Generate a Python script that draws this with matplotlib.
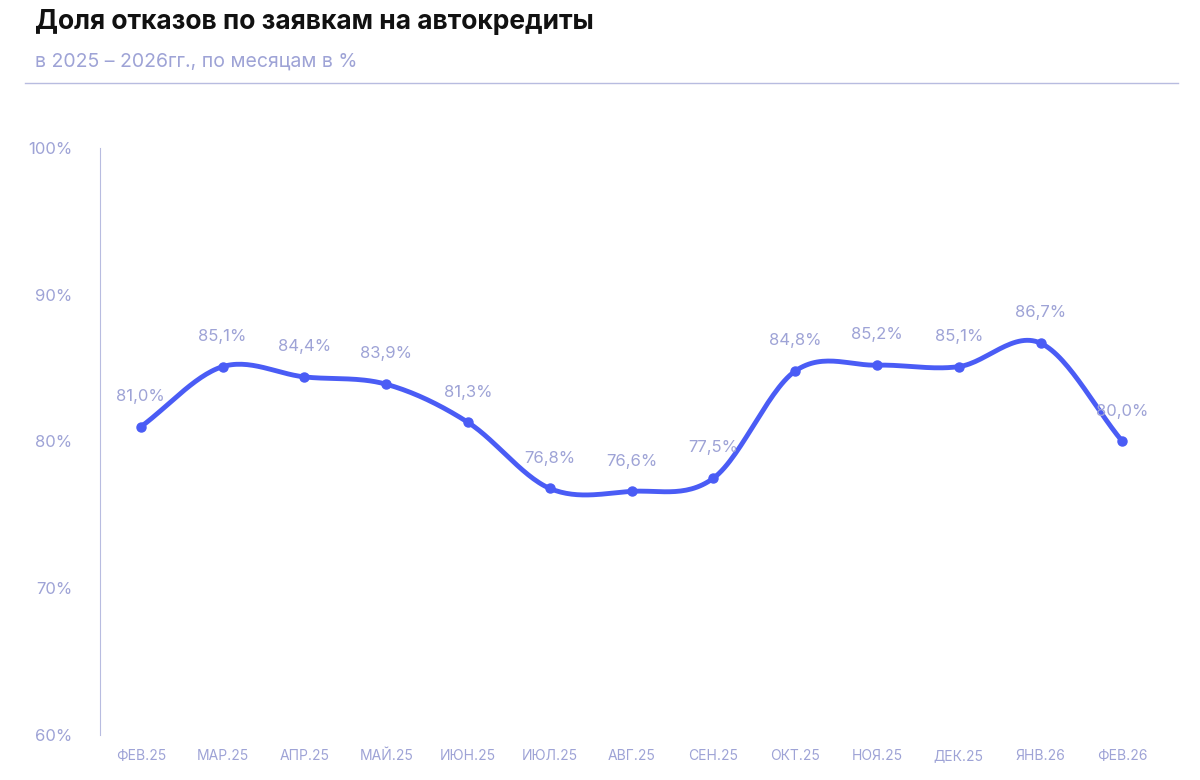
import matplotlib
matplotlib.use("Agg")
import matplotlib.pyplot as plt
import numpy as np

months = ["ФЕВ.25","МАР.25","АПР.25","МАЙ.25","ИЮН.25","ИЮЛ.25","АВГ.25","СЕН.25","ОКТ.25","НОЯ.25","ДЕК.25","ЯНВ.26","ФЕВ.26"]
values = [81.0,85.1,84.4,83.9,81.3,76.8,76.6,77.5,84.8,85.2,85.1,86.7,80.0]
yticks = [60,70,80,90,100]

plt.rcParams['font.family'] = ['Inter', 'DejaVu Sans']
LINE = "#4a5cf5"
LAB = "#9ea3d6"

fig = plt.figure(figsize=(12, 7.8), dpi=100)
fig.text(0.029, 0.972, "Доля отказов по заявкам на автокредиты", fontsize=19, fontweight='bold', color="#111111", va='center')
fig.text(0.029, 0.921, "в 2025 – 2026гг., по месяцам в %", fontsize=14, color=LAB, va='center')
fig.add_artist(plt.Line2D([0.021, 0.982], [0.894, 0.894], color="#b8bce0", lw=1))

ax = fig.add_axes([0.0833, 0.0577, 0.8834, 0.7526])
x = np.arange(len(values))
y = np.array(values)

# Catmull-Rom smoothing for rendering
xs, ys = [], []
P = np.vstack([x, y]).T
P = np.vstack([2*P[0]-P[1], P, 2*P[-1]-P[-2]])
for i in range(1, len(P)-2):
    p0, p1, p2, p3 = P[i-1], P[i], P[i+1], P[i+2]
    for t in np.linspace(0, 1, 30, endpoint=False):
        t2, t3 = t*t, t*t*t
        pt = 0.5*((2*p1) + (-p0+p2)*t + (2*p0-5*p1+4*p2-p3)*t2 + (-p0+3*p1-3*p2+p3)*t3)
        xs.append(pt[0]); ys.append(pt[1])
xs.append(x[-1]); ys.append(y[-1])
ax.plot(xs, ys, color=LINE, lw=3.5, solid_capstyle='round')
ax.plot(x, y, 'o', color=LINE, ms=6.5)
for xi, yi in zip(x, y):
    ax.text(xi, yi + 1.55, f"{yi:.1f}%".replace('.', ','), ha='center', va='bottom', fontsize=12, color=LAB)

ax.set_xlim(-0.5, 12.46)
ax.set_ylim(60, 100)
ax.set_yticks(yticks)
ax.set_yticklabels([f"{v}%" for v in yticks], fontsize=12, color=LAB)
ax.set_xticks(x)
ax.set_xticklabels(months, fontsize=10, color=LAB)
for s in ['top', 'right', 'bottom']:
    ax.spines[s].set_visible(False)
ax.spines['left'].set_color("#b8bce0")
ax.tick_params(length=0, pad=10)
ax.tick_params(axis='y', pad=20)
fig.savefig("out.png")
